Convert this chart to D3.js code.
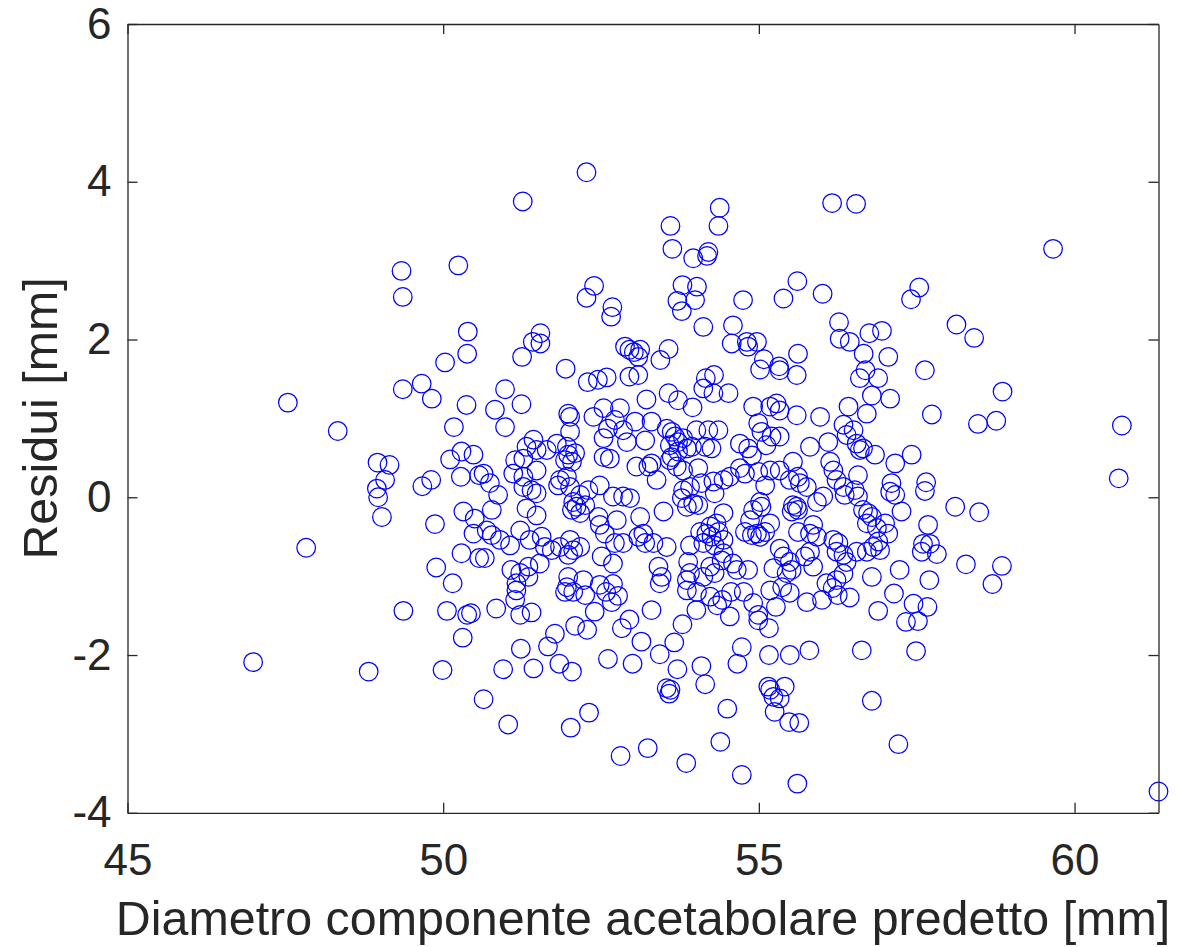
<!DOCTYPE html>
<html>
<head>
<meta charset="utf-8">
<script src="https://cdn.jsdelivr.net/npm/d3@7"></script>
<style>
  html, body { margin: 0; padding: 0; background: #ffffff; }
  svg { display: block; }
</style>
</head>
<body>
<svg id="chart" width="1179" height="947"></svg>
<script>
// ---- data ----
const xTicks = [45, 50, 55, 60];
const yTicks = [-4, -2, 0, 2, 4, 6];
const xLabel = "Diametro componente acetabolare predetto [mm]";
const yLabel = "Residui [mm]";

const xVals = [
49.34,49.36,50.24,50.39,50.38,50.03,49.36,49.66,49.82,50.37,47.54,48.33,50.17,48.96,49.15,49.08,48.95,48.97,49.03,49.67,
49.81,50.11,50.29,50.48,50.28,50.57,50.32,50.50,50.48,49.87,47.83,50.29,50.57,49.89,50.15,49.37,50.06,50.38,50.44,50.31,
46.99,48.82,49.99,50.64,50.84,51.14,51.22,51.40,51.16,51.77,51.66,51.23,50.95,51.43,51.84,52.04,52.09,52.28,52.40,51.93,
52.06,52.61,53.00,52.83,52.95,53.14,53.30,53.43,53.66,53.79,53.71,53.54,53.58,53.60,54.01,51.03,52.02,52.31,52.81,53.24,
53.85,53.86,52.25,52.48,52.58,52.69,52.77,52.67,56.89,57.14,57.45,57.67,57.33,57.52,56.63,57.49,56.79,57.21,54.73,54.66,
55.16,55.49,55.80,54.09,54.15,54.50,54.39,54.73,55.61,55.15,55.18,55.41,55.23,55.33,55.25,55.48,55.64,54.02,54.23,54.34,
54.42,54.56,54.76,54.91,55.18,55.37,55.27,55.49,55.76,56.00,56.17,56.25,56.44,54.54,54.99,54.99,55.16,59.66,58.13,58.41,
58.86,57.74,58.47,58.76,60.75,60.70,57.65,57.63,58.11,58.49,57.68,57.71,57.82,57.58,57.60,58.28,58.85,58.70,57.70,61.33,
54.38,54.36,54.20,54.18,53.96,56.16,56.54,54.02,53.99,54.75,55.39,55.61,56.01,57.54,57.41,54.12,54.59,54.57,54.81,54.83,
54.97,55.08,55.02,55.32,55.33,55.62,55.60,56.27,56.28,56.44,56.75,56.95,56.66,57.05,56.69,56.60,56.89,57.63,54.29,54.16,
52.27,51.26,53.60,53.63,52.39,52.27,52.68,52.66,53.79,53.71,53.78,51.54,51.42,51.54,51.25,51.94,52.88,52.95,53.02,53.12,
53.09,53.57,53.44,52.29,52.45,52.59,52.95,53.09,50.98,50.82,51.24,50.98,53.22,53.57,53.72,53.95,51.98,52.01,52.01,52.38,
52.54,52.61,52.80,52.72,52.85,52.54,52.91,53.20,53.04,53.30,53.54,53.62,53.67,53.72,53.59,53.80,53.86,53.72,53.62,54.01,
51.43,51.48,51.32,51.64,51.80,51.96,51.98,52.09,51.93,52.04,51.14,51.27,52.54,52.64,53.06,53.25,53.38,53.30,53.59,53.70,
53.80,53.91,53.80,53.78,53.96,53.86,50.64,50.74,51.11,51.27,51.48,51.27,51.40,51.48,50.87,51.85,51.96,51.82,52.01,52.17,
52.06,52.11,52.17,52.04,52.25,52.30,52.48,52.69,52.85,52.96,52.46,52.48,52.75,53.12,53.49,51.32,51.48,50.77,50.69,50.77,
50.90,51.06,51.22,51.37,51.56,51.61,51.72,51.85,52.01,52.06,52.17,51.98,52.56,52.51,52.72,52.85,53.09,53.17,53.20,53.33,
53.54,53.91,50.66,51.08,51.22,51.16,51.35,51.53,51.35,51.98,51.96,52.69,53.41,53.46,53.43,53.88,53.91,53.86,52.22,54.12,
54.28,54.52,56.79,57.08,54.91,55.18,55.28,55.33,55.60,55.97,56.42,56.71,54.20,54.36,54.15,54.25,53.94,54.99,55.04,55.20,
55.33,54.83,54.70,54.89,55.12,55.81,56.10,56.34,56.50,56.39,56.55,56.65,56.60,56.84,57.16,57.42,55.54,55.62,55.49,55.33,
55.18,54.99,55.10,54.70,54.54,54.44,54.78,54.04,54.09,54.28,54.30,56.13,56.18,56.23,56.34,56.36,56.57,56.02,55.92,56.52,
56.57,57.10,57.08,57.16,55.65,55.76,55.02,55.04,54.91,55.54,55.60,55.62,55.52,57.26,56.65,56.73,56.79,56.71,56.87,57.00,
57.05,55.86,55.81,55.92,55.62,55.18,54.86,54.78,54.89,54.97,55.02,55.10,54.44,54.33,54.23,54.17,54.25,54.36,54.07,54.12,
54.30,54.44,54.04,56.18,56.26,56.23,56.34,56.39,56.71,56.81,56.89,56.92,56.55,57.23,56.79,56.34,56.23,56.07,55.86,55.81,
55.73,55.33,55.39,55.49,55.52,55.23,55.44,54.83,54.59,54.65,54.44,54.41,54.23,54.30,54.12
];

const yVals = [
2.87,2.54,2.94,2.10,1.82,1.71,1.37,1.44,1.25,1.17,1.20,0.84,0.89,0.44,0.41,0.22,0.11,0.00,-0.25,0.14,
0.22,0.48,0.58,0.54,0.26,0.28,-0.18,-0.27,-0.46,-0.34,-0.64,-0.71,-0.77,-0.89,-1.09,-1.44,-1.44,-1.49,-1.47,-1.78,
-2.09,-2.21,-2.19,-2.56,-1.41,-1.30,-1.49,-1.46,-1.18,-1.73,-1.89,-1.92,-2.18,-2.17,-2.11,-2.21,-1.63,-1.68,-1.45,-1.20,
-1.20,-2.05,-2.11,-1.66,-1.55,-1.83,-1.43,-1.99,-1.84,-1.61,-2.18,-2.42,-2.49,-2.44,-1.43,-2.88,-2.92,-2.73,-3.28,-3.18,
-3.37,-1.18,-1.24,-1.11,-1.20,-1.10,-1.25,-1.33,-1.44,-1.22,-1.35,-1.39,-1.58,-1.57,-1.94,-1.95,-2.58,-3.13,-1.90,-2.11,
-2.00,-2.00,-1.94,-2.14,-2.37,-2.68,-3.10,-3.52,-3.63,-2.40,-2.44,-2.40,-2.53,-2.55,-2.72,-2.85,-2.86,-1.20,-1.26,-1.37,
-1.30,-1.20,-1.20,-1.34,-1.18,-1.14,-1.39,-1.21,-1.33,-1.30,-1.15,-1.24,-1.27,-1.51,-1.49,-1.56,-1.66,3.15,2.19,2.02,
1.34,1.05,0.93,0.97,0.91,0.24,0.19,0.08,-0.12,-0.19,-0.35,-0.59,-0.72,-0.69,-0.59,-0.85,-0.87,-1.10,-1.05,-3.73,
3.67,3.44,3.11,3.06,3.03,3.73,3.72,2.67,2.50,2.50,2.52,2.74,2.58,2.66,2.51,2.16,2.18,1.95,1.97,1.91,
1.97,1.75,1.62,1.66,1.61,1.82,1.55,2.22,2.01,1.97,2.08,2.11,1.82,1.78,1.61,1.51,1.51,1.61,1.55,1.51,
4.12,3.75,3.44,3.15,2.68,2.53,2.41,2.29,2.69,2.49,2.36,2.08,1.97,1.95,1.78,1.63,1.91,1.87,1.84,1.87,
1.78,1.88,1.74,1.46,1.49,1.52,1.53,1.55,1.37,1.11,1.18,0.89,1.24,1.32,1.23,1.14,1.06,1.02,0.83,1.02,
1.13,0.87,1.13,0.98,0.85,0.75,0.70,0.72,0.96,0.96,0.87,0.83,0.77,0.70,0.66,0.75,0.62,0.58,0.51,0.85,
0.73,0.60,0.64,0.60,0.68,0.64,0.54,0.56,0.47,0.45,0.47,0.49,0.51,0.49,0.39,0.39,0.22,0.43,0.47,0.39,
0.34,0.13,0.09,-0.01,-0.08,-0.12,0.30,0.18,0.30,0.26,0.34,0.13,0.09,0.05,0.03,0.22,0.26,0.15,0.13,0.03,
-0.06,-0.12,-0.20,-0.16,-0.10,0.09,0.15,0.01,0.01,-0.01,-0.25,-0.35,-0.29,-0.25,-0.18,-0.14,-0.23,-0.16,-0.42,-0.48,
-0.54,-0.61,-0.42,-0.54,-0.50,-0.63,-0.67,-0.63,-0.54,-0.67,-0.63,-0.73,-0.46,-0.75,-0.58,-0.58,-0.50,-0.46,-0.58,-0.58,
-0.63,-0.61,-0.77,-0.92,-0.96,-1.09,-0.88,-0.84,-1.01,-1.01,-1.14,-0.84,-0.88,-1.01,-1.09,-0.82,-0.96,-1.05,-1.05,1.38,
1.32,1.32,1.29,1.25,1.15,1.15,1.19,1.10,1.04,1.02,1.15,1.06,0.85,0.85,0.64,0.62,0.64,0.94,0.83,0.77,
0.77,0.62,0.68,0.53,0.66,0.64,0.70,0.92,0.85,0.79,0.68,0.62,0.60,0.54,0.43,0.54,0.45,0.26,0.22,0.34,
0.34,0.32,0.15,0.37,0.26,0.22,0.30,0.37,0.18,0.20,0.05,0.45,0.34,0.22,0.13,0.03,0.28,0.01,-0.06,0.09,
0.01,0.18,0.07,0.03,0.18,0.13,-0.06,-0.12,-0.16,-0.10,-0.12,-0.16,-0.18,-0.18,-0.16,-0.20,-0.25,-0.33,-0.39,-0.33,
-0.46,-0.35,-0.46,-0.50,-0.44,-0.33,-0.29,-0.44,-0.48,-0.46,-0.50,-0.44,-0.20,-0.33,-0.37,-0.46,-0.50,-0.44,-0.44,-0.58,
-0.61,-0.54,-0.10,-0.54,-0.58,-0.69,-0.73,-0.82,-0.69,-0.63,-0.56,-0.67,-0.69,-0.92,-1.01,-0.97,-1.05,-1.09,-0.88,-0.69,
-0.75,-0.65,-0.75,-0.82,-0.92,-0.90,-0.96,-0.92,-0.84,-0.92,-0.71,-0.80,-0.88,-0.96,-1.01
];

// ---- layout ----
const W = 1179, H = 947;
const plot = { left: 127.5, right: 1158.5, top: 24, bottom: 812.8 };
const axisColor = "#262626";
const fontFamily = "'Liberation Sans', Arial, Helvetica, sans-serif";
const tickFmt = d => String(d);   // plain hyphen-minus like the reference

const svg = d3.select("#chart");
svg.append("rect").attr("width", W).attr("height", H).attr("fill", "#ffffff");

const x = d3.scaleLinear().domain([45, 61.33]).range([plot.left, plot.right]);
const y = d3.scaleLinear().domain([-4, 6]).range([plot.bottom, plot.top]);

const points = xVals.map((v, i) => ({ x: v, y: yVals[i] }));

// markers
svg.append("g")
  .selectAll("circle")
  .data(points)
  .enter()
  .append("circle")
  .attr("cx", d => x(d.x))
  .attr("cy", d => y(d.y))
  .attr("r", 9.3)
  .attr("fill", "none")
  .attr("stroke", "#0000ff")
  .attr("stroke-width", 1.25);

function styleAxis(g) {
  g.selectAll("path, line").attr("stroke", axisColor).attr("stroke-width", 1.3);
  g.selectAll("text")
    .attr("fill", axisColor)
    .style("font-family", fontFamily)
    .style("font-size", "44px");
}

// bottom axis (ticks inward)
svg.append("g")
  .attr("transform", `translate(0,${plot.bottom})`)
  .call(d3.axisBottom(x).tickValues(xTicks).tickFormat(tickFmt)
        .tickSizeInner(-10).tickSizeOuter(0).tickPadding(31))
  .call(styleAxis);

// top axis (ticks only)
svg.append("g")
  .attr("transform", `translate(0,${plot.top})`)
  .call(d3.axisTop(x).tickValues(xTicks).tickFormat("")
        .tickSizeInner(-10).tickSizeOuter(0))
  .call(styleAxis);

// left axis
svg.append("g")
  .attr("transform", `translate(${plot.left},0)`)
  .call(d3.axisLeft(y).tickValues(yTicks).tickFormat(tickFmt)
        .tickSizeInner(-10).tickSizeOuter(0).tickPadding(16))
  .call(styleAxis);

// right axis (ticks only)
svg.append("g")
  .attr("transform", `translate(${plot.right},0)`)
  .call(d3.axisRight(y).tickValues(yTicks).tickFormat("")
        .tickSizeInner(-10).tickSizeOuter(0))
  .call(styleAxis);

// axis labels
svg.append("text")
  .attr("x", (plot.left + plot.right) / 2)
  .attr("y", 935)
  .attr("text-anchor", "middle")
  .attr("fill", axisColor)
  .style("font-family", fontFamily)
  .style("font-size", "48.4px")
  .text(xLabel);

svg.append("text")
  .attr("transform", `translate(57,${(plot.top + plot.bottom) / 2}) rotate(-90)`)
  .attr("text-anchor", "middle")
  .attr("fill", axisColor)
  .style("font-family", fontFamily)
  .style("font-size", "48.4px")
  .text(yLabel);
</script>
</body>
</html>
